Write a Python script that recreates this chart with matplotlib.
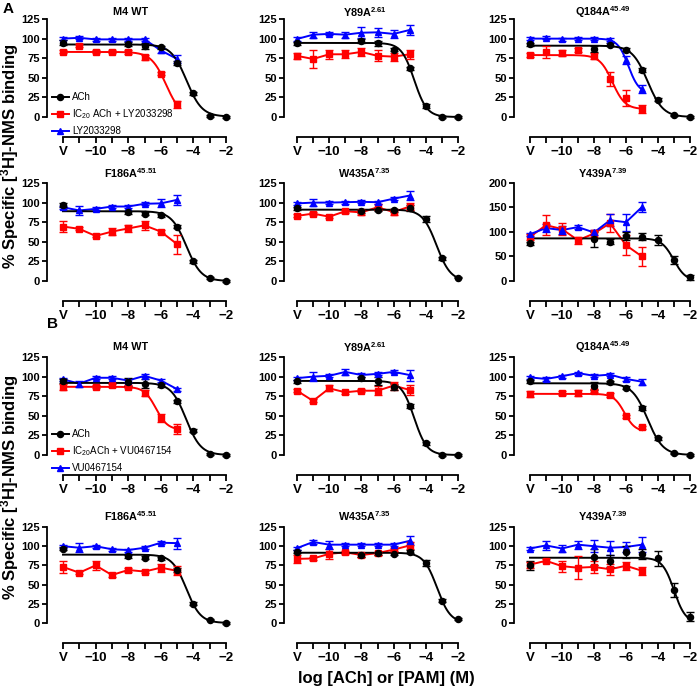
import numpy as np
import matplotlib
matplotlib.use('Agg')
import matplotlib.pyplot as plt
from matplotlib.lines import Line2D

plt.rcParams['font.family'] = ['Liberation Sans', 'DejaVu Sans']
plt.rcParams['mathtext.fontset'] = 'custom'
plt.rcParams['mathtext.rm'] = 'Liberation Sans'
plt.rcParams['mathtext.bf'] = 'Liberation Sans:bold'
plt.rcParams['mathtext.it'] = 'Liberation Sans:italic'

# ---------------- data ----------------
# x positions: V (vehicle) is drawn at -12
x_ach = [-12, -8, -7, -6, -5, -4, -3, -2]
x_pam = [-12, -11, -10, -9, -8, -7, -6, -5]
xtick_pos = [-12, -10, -8, -6, -4, -2]
xtick_labels = ['V', '\u221210', '\u22128', '\u22126', '\u22124', '\u22122']
xminor_pos = [-11, -9, -7, -5, -3]

titles = ['M4 WT', r'Y89A$^{\mathbf{2.61}}$', r'Q184A$^{\mathbf{45.49}}$',
          r'F186A$^{\mathbf{45.51}}$', r'W435A$^{\mathbf{7.35}}$', r'Y439A$^{\mathbf{7.39}}$']
ymax_list = [125, 125, 125, 125, 125, 200, 125, 125, 125, 125, 125, 125]
yticks_125 = [0, 25, 50, 75, 100, 125]
yticks_200 = [0, 50, 100, 150, 200]

legend_A = ['ACh', r'IC$_{\mathrm{20}}$ ACh + LY2033298', 'LY2033298']
legend_B = ['ACh', r'IC$_{\mathrm{20}}$ACh + VU0467154', 'VU0467154']

nan = np.nan
# fit parameters: (top, bottom, logIC50, hill)
# ---- A: LY2033298 ----
a_wt_ach = [95, 93, 91, 89, 69, 30, 1, 0];        a_wt_ach_err = [3, 3, 4, 2, 3, 2, 1, 1]
a_wt_ach_fit = (92.5, 0.5, -4.42, 0.92)
a_wt_red = [83, 91, 83, 83, 83, 76, 55, 16];      a_wt_red_err = [2, 2, 2, 2, 3, 3, 2, 5]
a_wt_red_fit = (83, 0, -5.68, 0.95)
a_wt_blue = [100, 101, 99, 99, 99, 99, 85, 74];   a_wt_blue_err = [2, 2, 2, 2, 2, 2, 3, 5]

a_y89_ach = [94, 97, 94, 86, 62, 14, 0, 0];       a_y89_ach_err = [2, 2, 3, 2, 2, 2, 1, 1]
a_y89_ach_fit = (94.5, 0, -4.72, 1.1)
a_y89_red = [78, 74, 80, 80, 83, 78, 77, 80];     a_y89_red_err = [4, 11, 6, 5, 5, 7, 5, 6]
a_y89_blue = [99.5, 105, 106, 105, 107.5, 108, 106, 111]; a_y89_blue_err = [2, 4, 2, 4, 7, 6, 5, 6]

a_q184_ach = [93, 87, 92, 86, 60, 22, 2, 0];      a_q184_ach_err = [2, 4, 2, 2, 2, 2, 1, 1]
a_q184_ach_fit = (91, 0, -4.65, 0.9)
a_q184_red = [79, 83, 82, 85.5, 78, 49, 24, 10.5]; a_q184_red_err = [2, 8, 4, 2, 4, 9, 10, 5]
a_q184_red_fit = (79, 10, -6.85, 1.1)
a_q184_blue = [100, 101, 99, 100, 100, 98.5, 73, 35.5]; a_q184_blue_err = [2, 2, 2, 2, 2, 2, 5, 5]
a_q184_blue_fit = (100, 30, -5.85, 1.3)

a_f186_ach = [97, 87.5, 86, 84, 69, 25, 3.5, 0];  a_f186_ach_err = [2, 2, 2, 2, 2, 2, 1, 1]
a_f186_ach_fit = (89, 0, -4.43, 0.95)
a_f186_red = [69.5, 66.5, 57.5, 63, 67, 71, 63, 47]; a_f186_red_err = [7, 2, 2, 4, 4, 6, 2, 12]
a_f186_blue = [94, 90, 92, 95, 95, 98.5, 99, 103.5]; a_f186_blue_err = [2, 6, 2, 2, 2, 2, 5, 6]

a_w435_ach = [93, 89, 91, 90, 93, 79, 29, 4.3];   a_w435_ach_err = [2, 2, 2, 2, 4, 4, 2, 1]
a_w435_ach_fit = (91, 0, -3.33, 1.0)
a_w435_red = [83, 86, 82, 89, 87.5, 94, 88, 95];  a_w435_red_err = [2, 2, 2, 2, 3, 4, 4, 5]
a_w435_blue = [99, 100, 100, 100.5, 101, 100.5, 105, 109]; a_w435_blue_err = [2, 4, 2, 2, 2, 2, 2, 6]

a_y439_ach = [77, 85, 80, 92, 90, 83, 42, 8];     a_y439_ach_err = [3, 15, 5, 8, 7, 10, 8, 5]
a_y439_ach_fit = (87, 0, -3.02, 1.15)
a_y439_red = [90, 114, 106, 83, 97, 118, 73, 50]; a_y439_red_err = [6, 20, 12, 7, 8, 18, 20, 20]
a_y439_blue = [95.5, 108, 104, 110, 99, 124, 120, 151]; a_y439_blue_err = [3, 8, 8, 4, 5, 12, 17, 10]

# ---- B: VU0467154 ----
b_wt_ach = [94.5, 93, 91, 89, 68.5, 31, 1.3, 0];  b_wt_ach_err = [3, 5, 6, 2, 2, 2, 1, 1]
b_wt_ach_fit = (92, 0, -4.45, 0.95)
b_wt_red = [87, nan, 87, 89, 87, 79.5, 47.5, 33]; b_wt_red_err = [4, 0, 2, 2, 2, 4, 5, 6]
b_wt_red_fit = (87, 32, -6.3, 1.2)
b_wt_blue = [96.5, 91, 98.5, 98.5, 95, 101, 95, 84]; b_wt_blue_err = [2, 4, 2, 2, 2, 2, 2, 2]

b_y89_ach = [94, 98, 94, 86.5, 62.5, 15, 0, 0];   b_y89_ach_err = [2, 2, 5, 4, 2, 2, 1, 1]
b_y89_ach_fit = (94.5, 0, -4.72, 1.1)
b_y89_red = [82, 69, 85, 80, 82, 82, 88.5, 83];   b_y89_red_err = [2, 2, 4, 2, 2, 6, 5, 6]
b_y89_blue = [98, 100, 101, 106, 102, 103.5, 106, 102]; b_y89_blue_err = [2, 6, 2, 4, 2, 2, 2, 7]

b_q184_ach = [94, 87.5, 92.5, 86, 60, 21.5, 2, 0]; b_q184_ach_err = [2, 5, 2, 2, 2, 2, 1, 1]
b_q184_ach_fit = (91.5, 0, -4.65, 0.9)
b_q184_red = [77.5, nan, 79, 79, 82, 76.5, 49.5, 35.5]; b_q184_red_err = [4, 0, 2, 4, 2, 2, 2, 2]
b_q184_red_fit = (78, 30, -6.1, 1.3)
b_q184_blue = [99, 97, 100.5, 104.5, 101, 102.5, 97, 93.5]; b_q184_blue_err = [2, 2, 2, 2, 2, 2, 2, 4]

b_f186_ach = [97, 87, 85, 84, 69, 25, 4.3, 0];    b_f186_ach_err = [2, 2, 2, 2, 2, 2, 1, 1]
b_f186_ach_fit = (89, 0, -4.43, 1.0)
b_f186_red = [73, 65.5, 75, 62.5, 69, 67, 72, 68]; b_f186_red_err = [8, 2, 6, 2, 2, 2, 5, 6]
b_f186_blue = [100, 98, 100, 96, 95, 98, 104.5, 104]; b_f186_blue_err = [2, 6, 2, 2, 2, 2, 2, 7]

b_w435_ach = [93, 88.5, 90.5, 90, 93, 78, 29, 5.5]; b_w435_ach_err = [2, 2, 2, 2, 2, 4, 2, 1]
b_w435_ach_fit = (91.5, 0, -3.3, 1.05)
b_w435_red = [83.5, 84, 90, 92, 88.5, 91, 95.5, 101]; b_w435_red_err = [5, 2, 7, 2, 2, 2, 2, 5]
b_w435_blue = [97.5, 105.5, 102, 102, 102, 102, 102, 107]; b_w435_blue_err = [2, 2, 5, 2, 2, 2, 2, 6]

b_y439_ach = [75, 86, 81, 92, 90, 84, 43, 8];     b_y439_ach_err = [6, 10, 8, 8, 7, 10, 9, 6]
b_y439_ach_fit = (85, 0, -3.0, 1.2)
b_y439_red = [76, 81, 74, 72, 73, 70, 74.5, 68];  b_y439_red_err = [4, 2, 7, 15, 8, 7, 5, 5]
b_y439_blue = [97, 101, 97, 102, 100, 98, 99, 102]; b_y439_blue_err = [2, 6, 5, 5, 8, 9, 7, 10]

panels = [
    (a_wt_ach, a_wt_ach_err, a_wt_ach_fit, a_wt_red, a_wt_red_err, a_wt_red_fit, a_wt_blue, a_wt_blue_err, None),
    (a_y89_ach, a_y89_ach_err, a_y89_ach_fit, a_y89_red, a_y89_red_err, None, a_y89_blue, a_y89_blue_err, None),
    (a_q184_ach, a_q184_ach_err, a_q184_ach_fit, a_q184_red, a_q184_red_err, a_q184_red_fit, a_q184_blue, a_q184_blue_err, a_q184_blue_fit),
    (a_f186_ach, a_f186_ach_err, a_f186_ach_fit, a_f186_red, a_f186_red_err, None, a_f186_blue, a_f186_blue_err, None),
    (a_w435_ach, a_w435_ach_err, a_w435_ach_fit, a_w435_red, a_w435_red_err, None, a_w435_blue, a_w435_blue_err, None),
    (a_y439_ach, a_y439_ach_err, a_y439_ach_fit, a_y439_red, a_y439_red_err, None, a_y439_blue, a_y439_blue_err, None),
    (b_wt_ach, b_wt_ach_err, b_wt_ach_fit, b_wt_red, b_wt_red_err, b_wt_red_fit, b_wt_blue, b_wt_blue_err, None),
    (b_y89_ach, b_y89_ach_err, b_y89_ach_fit, b_y89_red, b_y89_red_err, None, b_y89_blue, b_y89_blue_err, None),
    (b_q184_ach, b_q184_ach_err, b_q184_ach_fit, b_q184_red, b_q184_red_err, b_q184_red_fit, b_q184_blue, b_q184_blue_err, None),
    (b_f186_ach, b_f186_ach_err, b_f186_ach_fit, b_f186_red, b_f186_red_err, None, b_f186_blue, b_f186_blue_err, None),
    (b_w435_ach, b_w435_ach_err, b_w435_ach_fit, b_w435_red, b_w435_red_err, None, b_w435_blue, b_w435_blue_err, None),
    (b_y439_ach, b_y439_ach_err, b_y439_ach_fit, b_y439_red, b_y439_red_err, None, b_y439_blue, b_y439_blue_err, None),
]

# ---------------- layout ----------------
W, H = 700, 688
fig = plt.figure(figsize=(W / 100, H / 100), dpi=100)

col_px = [(47, 63, 226), (284, 297, 458), (514, 530, 690)]   # y-spine x, V x, -2 x
row_px = [(19, 117), (183, 281), (357, 455), (527, 623)]      # y of top tick, y of 0
title_x = [131, 365, 603]
title_y = [12, 173, 347, 516]

RED, BLUE, BLACK = '#ff0000', '#0000ff', '#000000'
LW = 1.4


def logistic(x, p):
    top, bottom, ic, h = p
    return bottom + (top - bottom) / (1 + 10 ** ((x - ic) * h))


def series(ax, x, y, err, color, marker, ms, fit):
    y = np.asarray(y, float)
    if fit is None:
        ax.plot(x, y, color=color, lw=LW, clip_on=False, zorder=3)
    else:
        xs = np.linspace(x[0], x[-1], 300)
        ax.plot(xs, logistic(xs, fit), color=color, lw=LW, clip_on=False, zorder=3)
    ax.errorbar(x, y, yerr=err, fmt='none', ecolor=color, elinewidth=1.0,
                capsize=2.6, capthick=1.0, clip_on=False, zorder=4)
    ax.plot(x, y, ls='none', marker=marker, ms=ms, color=color, mec=color,
            clip_on=False, zorder=5)


for i, p in enumerate(panels):
    r, c = divmod(i, 3)
    sx, vx, ex = col_px[c]
    ty, zy = row_px[r]
    ax = fig.add_axes([sx / W, 1 - zy / H, (ex - sx) / W, (zy - ty) / H])
    ppu = (ex - vx) / 10.0
    ax.set_xlim(-12 - (vx - sx) / ppu, -2)
    ymax = ymax_list[i]
    ax.set_ylim(0, ymax)
    ach, ach_err, ach_fit, red, red_err, red_fit, blue, blue_err, blue_fit = p

    series(ax, x_pam, red, red_err, RED, 's', 4.6, red_fit)
    series(ax, x_pam, blue, blue_err, BLUE, '^', 5.0, blue_fit)
    series(ax, x_ach, ach, ach_err, BLACK, 'o', 4.4, ach_fit)

    for s in ['top', 'right']:
        ax.spines[s].set_visible(False)
    ax.spines['left'].set_linewidth(1.3)
    ax.spines['bottom'].set_linewidth(1.3)
    ax.spines['left'].set_bounds(0, ymax)
    ax.spines['bottom'].set_bounds(-12, -2)
    ax.spines['bottom'].set_position(('outward', 14.5))
    ax.set_xticks(xtick_pos)
    ax.set_xticklabels(xtick_labels)
    ax.set_xticks(xminor_pos, minor=True)
    ax.set_yticks(yticks_200 if ymax == 200 else yticks_125)
    ax.tick_params(axis='x', which='both', direction='out', length=4, width=1.3,
                   labelsize=9.5, pad=2.5)
    ax.tick_params(axis='y', direction='out', length=3.5, width=1.3, labelsize=8, pad=1.5)
    for lab in ax.get_xticklabels() + ax.get_yticklabels():
        lab.set_fontweight('bold')
    ax.patch.set_alpha(0)

    fig.text(title_x[c] / W, 1 - title_y[r] / H, titles[i % 6], ha='center', va='center',
             fontsize=7.8, fontweight='bold')

    if i in (0, 6):
        labels = legend_A if i == 0 else legend_B
        handles = [Line2D([], [], color=BLACK, marker='o', ms=4.4, lw=LW),
                   Line2D([], [], color=RED, marker='s', ms=4.6, lw=LW),
                   Line2D([], [], color=BLUE, marker='^', ms=5.0, lw=LW)]
        top_y = 92 if i == 0 else 429
        ax.legend(handles, labels, loc='upper left', bbox_to_anchor=(52 / W, 1 - top_y / H),
                  bbox_transform=fig.transFigure, frameon=False, fontsize=7,
                  handlelength=1.7, handletextpad=0.4, labelspacing=0.55,
                  borderpad=0, borderaxespad=0)

# panel letters
fig.text(3 / W, 1 - 2 / H, 'A', ha='left', va='top', fontsize=11, fontweight='bold')
fig.text(47 / W, 1 - 317 / H, 'B', ha='left', va='top', fontsize=11, fontweight='bold')

# axis labels
ylab = r'% Specific [$^{\mathbf{3}}$H]-NMS binding'
fig.text(10 / W, 1 - 156 / H, ylab, rotation=90, ha='center', va='center',
         fontsize=12, fontweight='bold')
fig.text(10 / W, 1 - 487 / H, ylab, rotation=90, ha='center', va='center',
         fontsize=12, fontweight='bold')
fig.text(386 / W, 1 - 683 / H, 'log [ACh] or [PAM] (M)', ha='center', va='baseline',
         fontsize=12, fontweight='bold')

fig.savefig('out.png', dpi=100)
